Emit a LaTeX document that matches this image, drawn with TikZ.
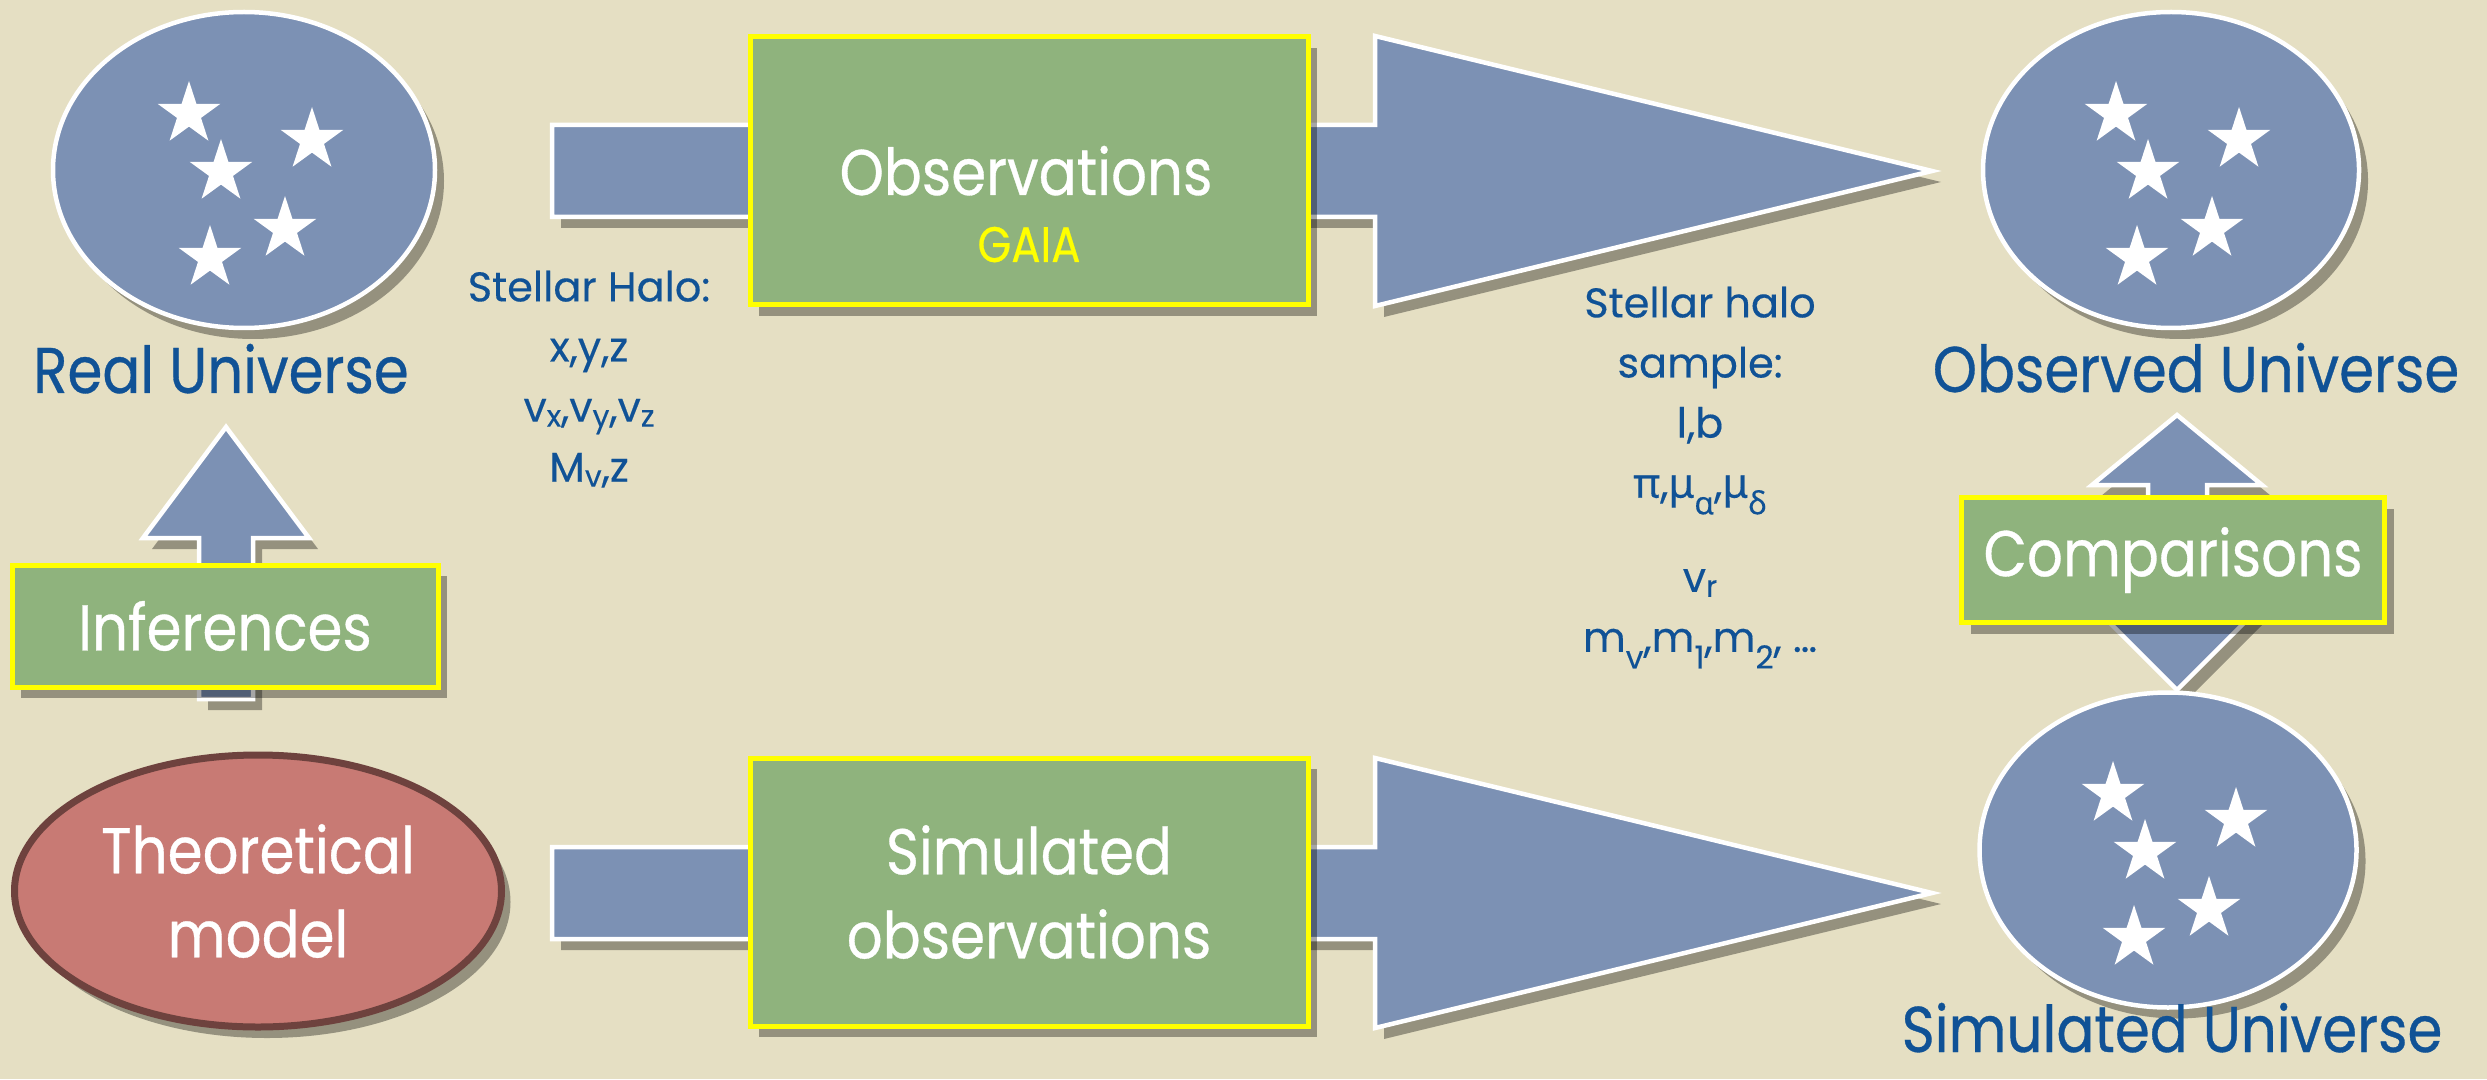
\documentclass[tikz,border=0pt]{standalone}
\usepackage{fontspec}
\setmainfont{Poppins}[FakeBold=0.3]
\newfontfamily\labelfont[FakeStretch=0.87,FakeBold=0.5]{Poppins}
\newfontfamily\grkfont[FakeBold=0.3]{Noto Sans}
\usetikzlibrary{shapes.geometric,shadows}
\usepackage{xcolor}

\definecolor{paper}{RGB}{229,223,195}
\definecolor{skyblue}{RGB}{124,145,180}
\definecolor{grass}{RGB}{143,179,125}
\definecolor{clay}{RGB}{200,122,116}
\definecolor{claydark}{RGB}{110,66,62}
\definecolor{ink}{RGB}{16,82,150}
\definecolor{gaiayellow}{RGB}{255,255,0}

\newcommand{\lowsub}[1]{\raisebox{-0.12em}{\fontsize{8.5}{8.5}\selectfont #1}}
\newcommand{\deepsub}[1]{\raisebox{-0.4em}{\fontsize{9}{9}\selectfont #1}}

\tikzset{
  softshadow/.style={drop shadow={shadow xshift=0.9mm, shadow yshift=-1.1mm, opacity=0.35, fill=black}},
  blockarrow/.style={draw=white, line width=0.45mm, fill=skyblue, softshadow},
  universe/.style={ellipse, draw=white, line width=0.45mm, fill=skyblue, inner sep=0pt, softshadow},
  theory/.style={ellipse, draw=claydark, line width=0.7mm, fill=clay, inner sep=0pt, softshadow,
    text=white, align=center, font=\labelfont\fontsize{18.4}{23.9}\selectfont},
  greenbox/.style={rectangle, draw=gaiayellow, line width=0.5mm, fill=grass, inner sep=0pt, softshadow,
    text=white, align=center, font=\labelfont\fontsize{18.4}{23.9}\selectfont},
  starmark/.style={star, star points=5, star point ratio=2.618, fill=white, inner sep=0pt, minimum size=6.6mm},
  biglabel/.style={text=ink, inner sep=0pt, font=\labelfont\fontsize{18.4}{23.9}\selectfont},
  datalist/.style={text=ink, inner sep=0pt, align=center, font=\fontsize{11.8}{17.1}\selectfont}
}

\begin{document}
\begin{tikzpicture}[x=0.1mm,y=-0.1mm]
  \fill[paper] (0,0) rectangle (2487,1079);% paper
  \useasboundingbox (0,0) rectangle (2487,1079);

  % the two long arrows, top row and bottom row
  \foreach \y in {171,893}{
    \draw[blockarrow] (552,\y-46) -- (1375,\y-46) -- (1375,\y-135) -- (1932,\y)
      -- (1375,\y+135) -- (1375,\y+46) -- (552,\y+46) -- cycle;
  }
  % up arrow under Inferences
  \draw[blockarrow] (226,427) -- (309,538) -- (253,538) -- (253,699) -- (199,699)
    -- (199,538) -- (143,538) -- cycle;
  % double arrow under Comparisons
  \draw[blockarrow] (2177,415) -- (2262,485) -- (2207,485) -- (2207,605) -- (2262,605)
    -- (2177,690) -- (2092,605) -- (2148,605) -- (2148,485) -- (2092,485) -- cycle;

  \node[universe, minimum width=38.2mm, minimum height=31.6mm] (real) at (244,170) {};
  \node[universe, minimum width=37.6mm, minimum height=31.6mm] (obs) at (2171,170) {};
  \node[universe, minimum width=37.7mm, minimum height=31.5mm] (sim) at (2168,850) {};

  \foreach \u in {real,obs,sim}{% five stars in each universe
    \foreach \dx/\dy [count=\i] in {-55/-56, 68/-30, -23/2, 41/59, -34/88}{
      \node[starmark] (\u-s\i) at ([shift={(\dx,\dy)}]\u.center) {};
    }
  }

  \node[theory, minimum width=48.7mm, minimum height=27.2mm] (model) at (258,891) {Theoretical\\model};

  \node[greenbox, minimum width=55.8mm, minimum height=26.8mm] (observe) at (1029,171) {};
  \node[text=white, inner sep=0pt, anchor=base, font=\labelfont\fontsize{18.4}{23.9}\selectfont] (observetxt) at (1026,195) {Observations};
  \node[text=gaiayellow, inner sep=0pt, anchor=base, font=\labelfont\fontsize{14.2}{17}\selectfont] (gaia) at (1029,262) {GAIA};
  \node[greenbox, minimum width=55.8mm, minimum height=26.8mm] (simobs) at (1029,892) {Simulated\\observations};
  \node[greenbox, minimum width=42.6mm, minimum height=12.2mm] (infer) at (225,626) {Inferences};
  \node[greenbox, minimum width=42.3mm, minimum height=12.5mm] (compare) at (2173,560) {Comparisons};

  \node[biglabel, anchor=base] (reallabel) at (221,393) {Real Universe};
  \node[biglabel, anchor=base] (obslabel) at (2196,392) {Observed Universe};
  \node[biglabel, anchor=base] (simlabel) at (2172,1052) {Simulated Universe};

  \node[datalist, anchor=north] (halo) at (589,270)
    {Stellar Halo:\\ x,y,z\\ v\lowsub{x},v\lowsub{y},v\lowsub{z}\\ M\lowsub{v},z};
  \node[datalist, anchor=north] (sample) at (1700,286)
    {Stellar halo\\ sample:\\ l,b\\
     {\grkfont π},{\grkfont μ}\deepsub{\grkfont α},{\grkfont μ}\deepsub{\grkfont δ}\\[3.4mm]
     v\lowsub{r}\\ m\deepsub{v},m\deepsub{1},m\deepsub{2}, \ldots};
\end{tikzpicture}
\end{document}
